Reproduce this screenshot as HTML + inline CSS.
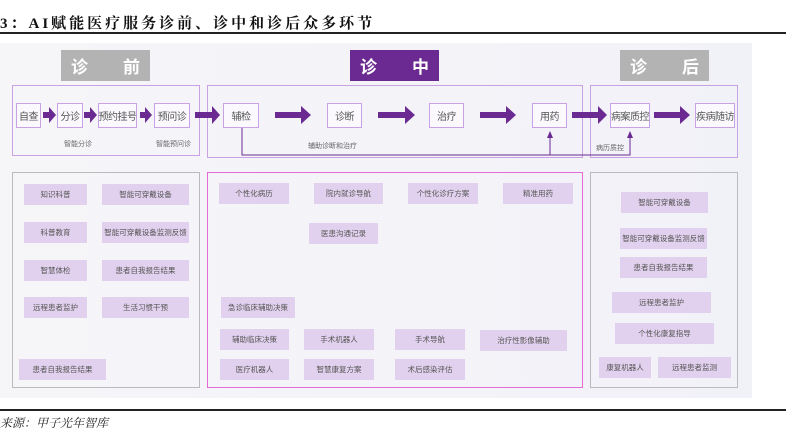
<!DOCTYPE html>
<html><head><meta charset="utf-8"><style>
*{margin:0;padding:0;box-sizing:border-box}
body{width:786px;height:431px;background:#fff;position:relative;overflow:hidden;font-family:"Liberation Sans","Noto Sans CJK SC",sans-serif}
.a{position:absolute}
.t{left:0;top:12px;font-family:"Liberation Serif","Noto Serif CJK SC",serif;font-weight:bold;font-size:15px;letter-spacing:3px;color:#111}
.hd{position:absolute;top:50px;height:31px;width:89px;color:#fff;font-size:17px;font-weight:bold;display:flex;justify-content:space-between;align-items:center;padding:0 10px}
.fr{position:absolute;border:1.5px solid #c9a2e3}
.n{position:absolute;top:103px;height:25px;border:1.5px solid #c9a2e3;background:#fbf9fd;font-size:10px;color:#555;display:flex;align-items:center;justify-content:center;white-space:nowrap;letter-spacing:-0.5px}
.lb{position:absolute;font-size:7px;color:#666;white-space:nowrap}
.b{position:absolute;height:21px;background:#e2d1ee;font-size:7.5px;color:#555;display:flex;align-items:center;justify-content:center;white-space:nowrap}
</style></head><body>
<div class="a t">3：AI赋能医疗服务诊前、诊中和诊后众多环节</div>
<div class="a" style="left:0;top:32px;width:786px;height:2px;background:#222"></div>
<div class="a" style="left:0;top:43px;width:752px;height:355px;background:linear-gradient(90deg,#f6f6f9,#f1f1f8)"></div>
<div class="hd" style="left:61px;background:#b3b3b3"><span>诊</span><span>前</span></div>
<div class="hd" style="left:350px;background:#6b2a91"><span>诊</span><span>中</span></div>
<div class="hd" style="left:620px;background:#b3b3b3"><span>诊</span><span>后</span></div>
<div class="fr" style="left:12px;top:85px;width:188px;height:71px"></div>
<div class="fr" style="left:207px;top:85px;width:376px;height:73px"></div>
<div class="fr" style="left:590px;top:85px;width:148px;height:73px"></div>
<svg class="a" style="left:0;top:0" width="786" height="431">
<g fill="#6b2a91">
<path d="M43 112h6v-5l7 8-7 8v-5h-6z"/>
<path d="M84 112h6v-5l7 8-7 8v-5h-6z"/>
<path d="M140 112h5v-5l7 8-7 8v-5h-5z"/>
<path d="M195 112h17v-6l8 9-8 9v-6h-17z"/>
<path d="M275 112h26v-6l10 9-10 9v-6h-26z"/>
<path d="M378 112h27v-6l10 9-10 9v-6h-27z"/>
<path d="M480 112h26v-6l10 9-10 9v-6h-26z"/>
<path d="M572 112h26v-6l9 9-9 9v-6h-26z"/>
<path d="M654 112h26v-6l10 9-10 9v-6h-26z"/>
<path d="M547 138l3-7 3 7z"/><path d="M627 138l3-7 3 7z"/>
</g>
<path d="M242 128V155H630V135M550 155V135" fill="none" stroke="#6b2a91" stroke-width="1"/>
</svg>
<div class="n" style="left:16px;width:25px">自查</div>
<div class="n" style="left:57px;width:26px">分诊</div>
<div class="n" style="left:98px;width:39px">预约挂号</div>
<div class="n" style="left:154px;width:36px">预问诊</div>
<div class="n" style="left:223px;width:36px">辅检</div>
<div class="n" style="left:327px;width:35px">诊断</div>
<div class="n" style="left:429px;width:35px">治疗</div>
<div class="n" style="left:532px;width:35px">用药</div>
<div class="n" style="left:610px;width:40px">病案质控</div>
<div class="n" style="left:695px;width:40px">疾病随访</div>
<div class="lb" style="left:64px;top:139px">智能分诊</div>
<div class="lb" style="left:156px;top:139px">智能预问诊</div>
<div class="lb" style="left:308px;top:141px">辅助诊断和治疗</div>
<div class="lb" style="left:596px;top:143px">病历质控</div>
<div class="a" style="left:12px;top:172px;width:188px;height:216px;border:1.5px solid #bbb"></div>
<div class="a" style="left:207px;top:172px;width:376px;height:216px;border:1.5px solid #e46ad6"></div>
<div class="a" style="left:590px;top:172px;width:148px;height:216px;border:1.5px solid #bbb"></div>
<div class="b" style="left:24px;top:184px;width:63px">知识科普</div>
<div class="b" style="left:102px;top:184px;width:87px">智能可穿戴设备</div>
<div class="b" style="left:24px;top:222px;width:63px">科普教育</div>
<div class="b" style="left:102px;top:222px;width:87px">智能可穿戴设备监测反馈</div>
<div class="b" style="left:24px;top:260px;width:63px">智慧体检</div>
<div class="b" style="left:102px;top:260px;width:87px">患者自我报告结果</div>
<div class="b" style="left:24px;top:297px;width:63px">远程患者监护</div>
<div class="b" style="left:102px;top:297px;width:87px">生活习惯干预</div>
<div class="b" style="left:19px;top:359px;width:87px">患者自我报告结果</div>
<div class="b" style="left:219px;top:183px;width:70px">个性化病历</div>
<div class="b" style="left:314px;top:183px;width:69px">院内就诊导航</div>
<div class="b" style="left:408px;top:183px;width:70px">个性化诊疗方案</div>
<div class="b" style="left:503px;top:183px;width:70px">精准用药</div>
<div class="b" style="left:309px;top:223px;width:69px">医患沟通记录</div>
<div class="b" style="left:221px;top:297px;width:74px">急诊临床辅助决策</div>
<div class="b" style="left:220px;top:329px;width:69px">辅助临床决策</div>
<div class="b" style="left:304px;top:329px;width:70px">手术机器人</div>
<div class="b" style="left:395px;top:329px;width:70px">手术导航</div>
<div class="b" style="left:480px;top:330px;width:87px">治疗性影像辅助</div>
<div class="b" style="left:220px;top:359px;width:69px">医疗机器人</div>
<div class="b" style="left:304px;top:359px;width:70px">智慧康复方案</div>
<div class="b" style="left:395px;top:359px;width:70px">术后感染评估</div>
<div class="b" style="left:621px;top:192px;width:87px">智能可穿戴设备</div>
<div class="b" style="left:620px;top:228px;width:87px">智能可穿戴设备监测反馈</div>
<div class="b" style="left:620px;top:257px;width:87px">患者自我报告结果</div>
<div class="b" style="left:612px;top:292px;width:99px">远程患者监护</div>
<div class="b" style="left:615px;top:323px;width:99px">个性化康复指导</div>
<div class="b" style="left:599px;top:357px;width:52px">康复机器人</div>
<div class="b" style="left:658px;top:357px;width:73px">远程患者监测</div>
<div class="a" style="left:0;top:409px;width:786px;height:2px;background:#222"></div>
<div class="a" style="left:0;top:414px;font-size:12px;font-style:italic;color:#222;font-family:'Liberation Serif','Noto Serif CJK SC',serif">来源：甲子光年智库</div>
</body></html>
